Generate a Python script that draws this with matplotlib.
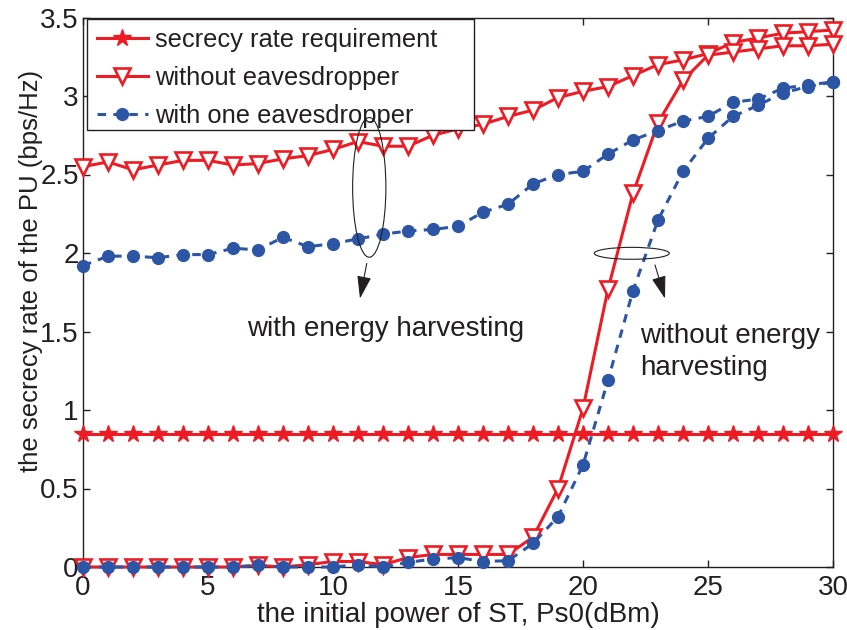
import matplotlib
matplotlib.use("Agg")
import matplotlib.pyplot as plt
from matplotlib.patches import Ellipse, Rectangle
from matplotlib.ticker import FuncFormatter

# ---------------- data ----------------
power_dbm = [0, 1, 2, 3, 4, 5, 6, 7, 8, 9, 10, 11, 12, 13, 14, 15,
             16, 17, 18, 19, 20, 21, 22, 23, 24, 25, 26, 27, 28, 29, 30]

rate_requirement = [0.85, 0.85, 0.85, 0.85, 0.85, 0.85, 0.85, 0.85, 0.85, 0.85, 0.85,
                    0.85, 0.85, 0.85, 0.85, 0.85, 0.85, 0.85, 0.85, 0.85, 0.85,
                    0.85, 0.85, 0.85, 0.85, 0.85, 0.85, 0.85, 0.85, 0.85, 0.85]

no_eve_with_eh = [2.55, 2.58, 2.53, 2.56, 2.59, 2.59, 2.56, 2.57, 2.60, 2.62, 2.66,
                  2.71, 2.68, 2.68, 2.75, 2.79, 2.82, 2.87, 2.91, 2.99, 3.03,
                  3.06, 3.13, 3.20, 3.23, 3.27, 3.34, 3.37, 3.40, 3.41, 3.42]

no_eve_without_eh = [0.0, 0.0, 0.0, 0.0, 0.0, 0.0, 0.0, 0.01, 0.0, 0.015, 0.035,
                     0.035, 0.015, 0.06, 0.08, 0.08, 0.08, 0.08, 0.19, 0.50, 1.01,
                     1.77, 2.38, 2.83, 3.10, 3.26, 3.28, 3.30, 3.32, 3.32, 3.33]

one_eve_with_eh = [1.92, 1.98, 1.98, 1.97, 1.99, 1.99, 2.03, 2.02, 2.10, 2.04, 2.06,
                   2.09, 2.12, 2.14, 2.15, 2.17, 2.26, 2.31, 2.44, 2.50, 2.52,
                   2.63, 2.72, 2.78, 2.84, 2.87, 2.96, 2.98, 3.05, 3.07, 3.09]

one_eve_without_eh = [0.0, 0.0, 0.0, 0.0, 0.0, 0.0, 0.0, 0.01, 0.0, 0.0, 0.0,
                      0.015, 0.0, 0.03, 0.05, 0.06, 0.035, 0.04, 0.15, 0.32, 0.65,
                      1.19, 1.76, 2.21, 2.52, 2.73, 2.87, 2.94, 3.02, 3.06, 3.09]

x_ticks = [0, 5, 10, 15, 20, 25, 30]
y_ticks = [0, 0.5, 1, 1.5, 2, 2.5, 3, 3.5]

legend_labels = ["secrecy rate requirement", "without eavesdropper", "with one eavesdropper"]
xlabel_text = "the initial power of ST, Ps0(dBm)"
ylabel_text = "the secrecy rate of the PU (bps/Hz)"
note_eh = "with energy harvesting"
note_no_eh_1 = "without energy"
note_no_eh_2 = "harvesting"

# ---------------- style ----------------
RED = "#ED1C24"
BLUE = "#2D55A6"
TXT = "#231F20"
plt.rcParams["font.family"] = ["Liberation Sans", "DejaVu Sans"]

W, H = 847, 630
fig = plt.figure(figsize=(W / 100, H / 100), dpi=100)
ax_l, ax_r, ax_t, ax_b = 83, 833, 17.5, 567
ax = fig.add_axes([ax_l / W, 1 - ax_b / H, (ax_r - ax_l) / W, (ax_b - ax_t) / H])

lw = 2.2
ax.plot(power_dbm, rate_requirement, color=RED, lw=lw, marker="*", ms=13,
        mfc=RED, mec=RED, clip_on=False, label=legend_labels[0], zorder=3)
ax.plot(power_dbm, no_eve_with_eh, color=RED, lw=lw, marker="v", ms=11.5,
        mfc="white", mec=RED, mew=1.9, clip_on=False, label=legend_labels[1], zorder=3)
ax.plot(power_dbm, no_eve_without_eh, color=RED, lw=lw, marker="v", ms=11.5,
        mfc="white", mec=RED, mew=1.9, clip_on=False, zorder=3)
ax.plot(power_dbm, one_eve_with_eh, color=BLUE, lw=lw, ls=(0, (2.8, 2.4)), marker="o",
        ms=8.5, mfc=BLUE, mec=BLUE, mew=1, clip_on=False, label=legend_labels[2], zorder=4)
ax.plot(power_dbm, one_eve_without_eh, color=BLUE, lw=lw, ls=(0, (2.8, 2.4)), marker="o",
        ms=8.5, mfc=BLUE, mec=BLUE, mew=1, clip_on=False, zorder=4)

ax.set_xlim(0, 30)
ax.set_ylim(0, 3.5)
ax.set_xticks(x_ticks)
ax.set_yticks(y_ticks)
fmt = FuncFormatter(lambda v, p: "%g" % v)
ax.xaxis.set_major_formatter(fmt)
ax.yaxis.set_major_formatter(fmt)
ax.tick_params(which="both", direction="in", top=True, right=True, length=5, width=1,
               color=TXT, labelsize=20, labelcolor=TXT)
ax.tick_params(axis="x", pad=5.5)
ax.tick_params(axis="y", pad=3)
for s in ax.spines.values():
    s.set_color(TXT)
    s.set_linewidth(1.0)

# axis labels
fig.text(458 / W, 1 - 615.5 / H, xlabel_text, ha="center", va="center", fontsize=20, color=TXT)
fig.text(31 / W, 1 - 271 / H, ylabel_text, ha="center", va="center", rotation=90,
         fontsize=18.5, color=TXT)

# legend
def ax_x(px):
    return (px - ax_l) / (ax_r - ax_l)

def ax_y(py):
    return (ax_b - py) / (ax_b - ax_t)

frame = Rectangle((ax_x(86.7), ax_y(130)), ax_x(474) - ax_x(86.7), ax_y(19.0) - ax_y(130),
                  transform=ax.transAxes, fill=True, facecolor="white", edgecolor=TXT,
                  lw=1.0, zorder=5, clip_on=False)
ax.add_patch(frame)
leg = ax.legend(loc="upper left", bbox_to_anchor=(ax_x(96.7), ax_y(28)), frameon=False,
                borderpad=0, borderaxespad=0, fontsize=18.4, handlelength=2.0,
                handletextpad=0.28, labelspacing=0.55, numpoints=1, labelcolor=TXT)
leg.set_zorder(6)

# annotations
ax.add_patch(Ellipse((11.45, 2.418), 1.33, 0.89, fill=False, edgecolor=TXT, lw=0.8, zorder=6))
ax.add_patch(Ellipse((21.95, 1.998), 3.0, 0.076, fill=False, edgecolor=TXT, lw=0.8, zorder=6))
arrow_kw = dict(arrowstyle="-|>,head_length=0.7,head_width=0.22", lw=0.8, color=TXT,
                shrinkA=0, shrinkB=0, mutation_scale=20)
ax.annotate("", xy=(11.08, 1.71), xytext=(11.35, 1.934), arrowprops=arrow_kw, zorder=6)
ax.annotate("", xy=(23.28, 1.71), xytext=(22.88, 1.924), arrowprops=arrow_kw, zorder=6)

ax.text(6.57, 1.471, note_eh, ha="left", va="baseline", fontsize=20, color=TXT)
ax.text(22.28, 1.427, note_no_eh_1, ha="left", va="baseline", fontsize=20, color=TXT)
ax.text(22.28, 1.223, note_no_eh_2, ha="left", va="baseline", fontsize=20, color=TXT)

fig.savefig("out.png", dpi=100)
